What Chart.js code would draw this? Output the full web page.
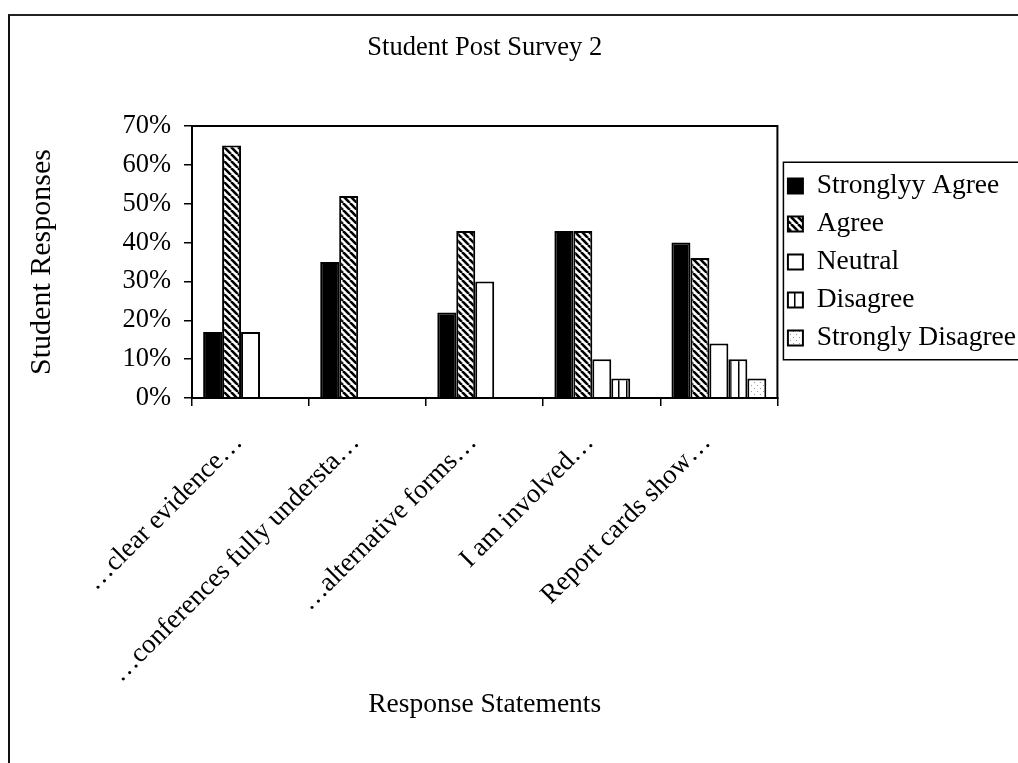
<!DOCTYPE html>
<html>
<head>
<meta charset="utf-8">
<script src="https://cdn.jsdelivr.net/npm/chart.js@4.4.1/dist/chart.umd.min.js"></script>
<style>
  html, body { margin: 0; padding: 0; background: #fff; }
  #wrap { position: relative; width: 1018px; height: 763px; overflow: hidden; }
  #frame { position: absolute; left: 8px; top: 14px; width: 1100px; height: 800px;
           border-left: 2px solid #111; border-top: 2px solid #222; }
  #c { position: absolute; left: 0; top: 0; }
</style>
</head>
<body>
<div id="wrap">
  <div id="frame"></div>
  <canvas id="c" width="1018" height="763"></canvas>
</div>
<script>
// Survey statements (x categories)
const statements = [
  '\u2026clear evidence\u2026',
  '\u2026conferences fully understa\u2026',
  '\u2026alternative forms\u2026',
  'I am involved\u2026',
  'Report cards show\u2026'
];
const seriesNames = ['Stronglyy Agree', 'Agree', 'Neutral', 'Disagree', 'Strongly Disagree'];

// Share of student responses, in percent
const stronglyAgree    = [17, 35, 22, 43, 40];
const agree            = [65, 52, 43, 43, 36];
const neutral          = [17, 0, 30, 10, 14];
const disagree         = [0, 0, 0, 5, 10];
const stronglyDisagree = [0, 0, 0, 0, 5];

const percentTicks = [0, 10, 20, 30, 40, 50, 60, 70];

// Fill patterns
function makePattern(size, paint) {
  const cv = document.createElement('canvas');
  cv.width = size; cv.height = size;
  const g = cv.getContext('2d');
  g.fillStyle = '#fff';
  g.fillRect(0, 0, size, size);
  paint(g, size);
  return document.getElementById('c').getContext('2d').createPattern(cv, 'repeat');
}
const hatch = makePattern(7, (g, s) => {
  g.strokeStyle = '#000';
  g.lineWidth = 2.6;
  for (const x0 of [-s, 0, s]) {
    g.beginPath(); g.moveTo(x0, 0); g.lineTo(x0 + s, s); g.stroke();
  }
});
const vLines = makePattern(8, (g, s) => {
  g.fillStyle = '#000';
  g.fillRect(2, 0, 1.5, s);
});
const dots = makePattern(6, (g, s) => {
  g.fillStyle = '#999';
  g.fillRect(1, 1, 1, 1);
  g.fillRect(4, 4, 1, 1);
});

Chart.defaults.font.family = '"Liberation Serif", "Times New Roman", serif';
Chart.defaults.color = '#000';

// Box around the plot area
const plotFrame = {
  id: 'plotFrame',
  afterDatasetsDraw(chart) {
    const { ctx, chartArea: a } = chart;
    ctx.save();
    ctx.strokeStyle = '#000';
    ctx.lineWidth = 2;
    ctx.strokeRect(a.left, a.top, a.right - a.left, a.bottom - a.top);
    ctx.restore();
  }
};

// Box around the legend
const legendFrame = {
  id: 'legendFrame',
  afterDraw(chart) {
    const lg = chart.legend;
    if (!lg || !lg.legendHitBoxes || !lg.legendHitBoxes.length) return;
    const hb = lg.legendHitBoxes;
    const top = hb[0].top - 10;
    const last = hb[hb.length - 1];
    const bottom = last.top + last.height + 8;
    const ctx = chart.ctx;
    ctx.save();
    ctx.strokeStyle = '#000';
    ctx.lineWidth = 1.5;
    ctx.strokeRect(lg.left + 6, top, 400, bottom - top);
    ctx.restore();
  }
};

const border = { color: '#000', width: 2 };

new Chart(document.getElementById('c'), {
  type: 'bar',
  data: {
    labels: statements,
    datasets: [
      { label: seriesNames[0], data: stronglyAgree,    backgroundColor: '#000' },
      { label: seriesNames[1], data: agree,            backgroundColor: hatch },
      { label: seriesNames[2], data: neutral,          backgroundColor: '#fff' },
      { label: seriesNames[3], data: disagree,         backgroundColor: vLines },
      { label: seriesNames[4], data: stronglyDisagree, backgroundColor: dots }
    ].map(d => Object.assign(d, {
      borderColor: '#000',
      borderWidth: 2,
      categoryPercentage: 0.81,
      barPercentage: 1.0
    }))
  },
  options: {
    responsive: false,
    animation: false,
    events: [],
    layout: { padding: { top: 14, right: -8, bottom: 0, left: 0 } },
    plugins: {
      title: {
        display: true,
        text: 'Student Post Survey 2',
        fullSize: false,
        font: { size: 26.5, weight: 'normal' },
        color: '#000',
        padding: { top: 18, bottom: 62.2 }
      },
      legend: {
        position: 'right',
        fullSize: false,
        labels: {
          boxWidth: 15,
          boxHeight: 15,
          padding: 10.5,
          color: '#000',
          font: { size: 27.5 }
        }
      },
      tooltip: { enabled: false }
    },
    scales: {
      x: {
        grid: { offset: true, drawOnChartArea: false, drawTicks: true, tickLength: 8, color: '#000', lineWidth: 1.5 },
        border: border,
        ticks: {
          font: { size: 27 },
          color: '#000',
          minRotation: 45,
          maxRotation: 45,
          autoSkip: false,
          padding: 21,
          labelOffset: -12
        },
        title: {
          display: true,
          text: 'Response Statements',
          font: { size: 27.5 },
          color: '#000',
          padding: { top: 0, bottom: 41.5 }
        },
        afterFit(scale) { scale.height = 365; }
      },
      y: {
        min: 0,
        max: 70,
        afterBuildTicks(scale) { scale.ticks = percentTicks.map(v => ({ value: v })); },
        grid: { drawOnChartArea: false, drawTicks: true, tickLength: 8, color: '#000', lineWidth: 1.5 },
        border: border,
        ticks: {
          font: { size: 26.5 },
          color: '#000',
          padding: 13,
          callback: v => v + '%'
        },
        title: {
          display: true,
          text: 'Student Responses',
          font: { size: 30 },
          color: '#000',
          padding: { top: 24, bottom: 0 }
        },
        afterFit(scale) { scale.width = 192; }
      }
    }
  },
  plugins: [plotFrame, legendFrame]
});
</script>
</body>
</html>
